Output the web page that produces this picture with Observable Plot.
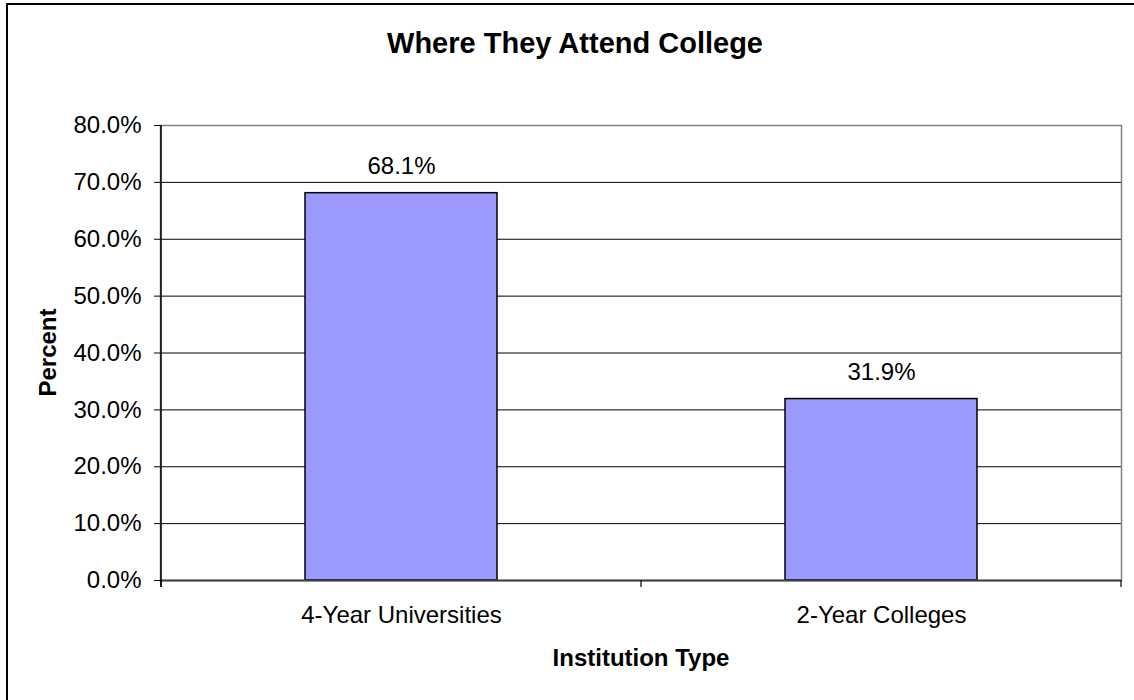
<!DOCTYPE html>
<html>
<head>
<meta charset="utf-8">
<script src="https://cdn.jsdelivr.net/npm/d3@7"></script>
<script src="https://cdn.jsdelivr.net/npm/@observablehq/plot@0.6"></script>
<style>
html, body { margin: 0; padding: 0; background: #fff; overflow: hidden; width: 1134px; height: 700px; }
#wrap { position: relative; width: 1134px; height: 700px; font-family: Arial, "Liberation Sans", sans-serif; }
#border { position: absolute; left: 6px; top: 3px; width: 1200px; height: 800px; border: 2px solid #000; box-sizing: border-box; pointer-events: none; }
#chart { position: absolute; left: 0; top: 0; }
</style>
</head>
<body>
<div id="wrap">
  <div id="chart"></div>
  <div id="border"></div>
</div>
<script>
const title = "Where They Attend College";
const yLabel = "Percent";
const xLabel = "Institution Type";
const categories = ["4-Year Universities", "2-Year Colleges"];
const percents = [68.1, 31.9];
const yTicks = [0, 10, 20, 30, 40, 50, 60, 70, 80];

const data = categories.map((c, i) => ({category: c, value: percents[i]}));
const fmt = d => d.toFixed(1) + "%";
const FONT = "Arial, 'Liberation Sans', sans-serif";

const plot = Plot.plot({
  width: 1134,
  height: 700,
  marginLeft: 160,
  marginRight: 13,
  marginTop: 125,
  marginBottom: 120,
  style: {fontFamily: FONT, fontSize: "24px", color: "#000", background: "transparent", overflow: "visible"},
  x: {domain: categories, paddingInner: 0.6, paddingOuter: 0.3, label: null},
  y: {domain: [0, 80], ticks: yTicks, label: null},
  marks: [
    Plot.gridY(yTicks.filter(t => t > 0 && t < 80), {stroke: "#000", strokeOpacity: 1, strokeWidth: 1}),
    Plot.frame({stroke: "#808080", strokeWidth: 1.5}),
    Plot.barY(data, {x: "category", y: "value", fill: "#9999FF", stroke: "#000", strokeWidth: 1.5}),
    Plot.text(data, {x: "category", y: "value", text: d => fmt(d.value), dy: -19, lineAnchor: "bottom", fontSize: 24, fill: "#000"}),
    Plot.axisY({ticks: yTicks, tickFormat: fmt, tickSize: 6, tickPadding: 13, label: null, stroke: "#000", fill: "#000", fontSize: 24}),
    Plot.axisX({tickSize: 0, tickPadding: 25, label: null, fill: "#000", fontSize: 24}),
    Plot.ruleY([0], {stroke: "#404040", strokeWidth: 2})
  ]
});

document.getElementById("chart").appendChild(plot);

const svg = d3.select(plot);
const xs = plot.scale("x");
const ys = plot.scale("y");
const y0 = ys.apply(0), yTop = ys.apply(80);
const gap = (xs.step - xs.bandwidth) / 2;
const bounds = categories.map(c => xs.apply(c) - gap);
bounds.push(xs.apply(categories[categories.length - 1]) + xs.bandwidth + gap);

// category separator ticks below the axis
svg.append("g").selectAll("line").data(bounds).join("line")
  .attr("x1", d => d).attr("x2", d => d)
  .attr("y1", y0).attr("y2", y0 + 7)
  .attr("stroke", "#000").attr("stroke-width", 1.2);

// left axis line
svg.append("line")
  .attr("x1", bounds[0]).attr("x2", bounds[0])
  .attr("y1", yTop).attr("y2", y0 + 7)
  .attr("stroke", "#000").attr("stroke-width", 1.5);

// title
svg.append("text")
  .attr("x", 575).attr("y", 53)
  .attr("text-anchor", "middle")
  .attr("font-family", FONT).attr("font-weight", "bold").attr("font-size", 29)
  .attr("fill", "#000")
  .text(title);

// y label
svg.append("text")
  .attr("transform", `translate(56, ${(y0 + yTop) / 2}) rotate(-90)`)
  .attr("text-anchor", "middle")
  .attr("font-family", FONT).attr("font-weight", "bold").attr("font-size", 24)
  .attr("fill", "#000")
  .text(yLabel);

// x label
svg.append("text")
  .attr("x", (bounds[0] + bounds[bounds.length - 1]) / 2).attr("y", 666)
  .attr("text-anchor", "middle")
  .attr("font-family", FONT).attr("font-weight", "bold").attr("font-size", 24)
  .attr("fill", "#000")
  .text(xLabel);
</script>
</body>
</html>
